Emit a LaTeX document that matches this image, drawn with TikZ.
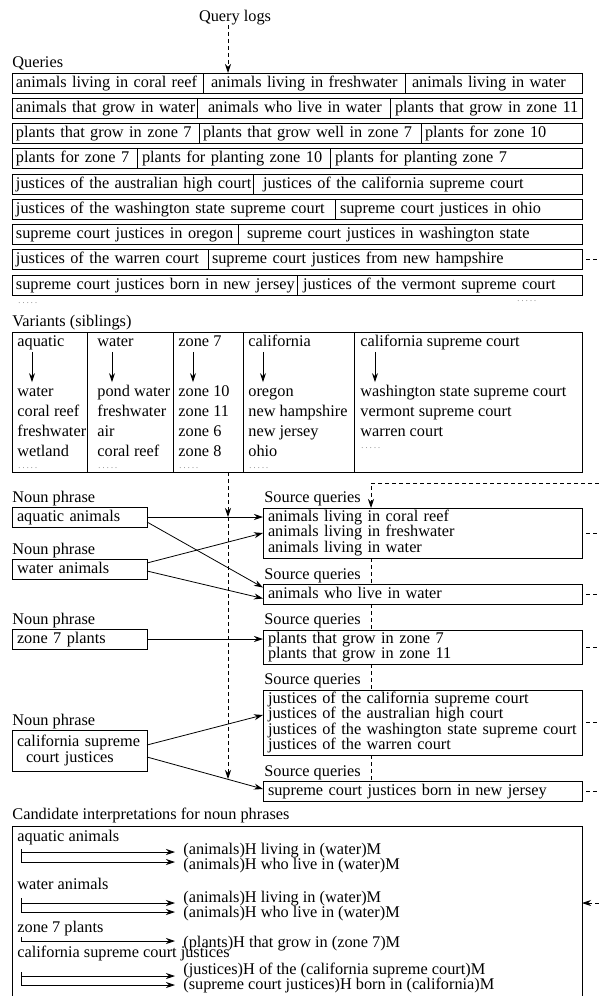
\documentclass[tikz,border=0pt]{standalone}
\usepackage{fontspec}
\setmainfont{Liberation Serif}
\usetikzlibrary{arrows.meta}
\newcommand\F{\fontsize{16.3}{15.5}\selectfont}
\newcommand\fdots{{\fontsize{8}{8}\selectfont\color{black!60}.\hspace{2.2pt}.\hspace{2.2pt}.\hspace{2.2pt}.\hspace{2.2pt}.}}
\newcommand\qcell[6]{%
  \pgfmathsetmacro\cw{#3-#2-8}%
  \node[cell, text width=\cw pt] (#1) at (#2,{83+25.25*(#4-1)}) {\hspace*{#5pt}\mbox{#6}};%
}
\begin{document}
\begin{tikzpicture}[x=1pt,y=-1pt,line width=0.8pt,
  txt/.style={inner sep=0pt, anchor=west, text height=11.5pt, text depth=3.5pt, font=\F},
  cell/.style={draw, anchor=west, inner xsep=4pt, inner ysep=0pt, minimum height=20pt,
    text height=11.5pt, text depth=3.5pt, align=left, font=\F, outer sep=0pt},
  box/.style={draw, anchor=north west, inner xsep=5pt, inner ysep=0pt, align=left,
    font=\F, outer sep=0pt, fill=white},
  col/.style={draw, anchor=north west, inner sep=0pt, outer sep=0pt, minimum height=140pt},
  dotsty/.style={inner sep=0pt, anchor=base west},
  arr/.style={-{Stealth[length=9pt,width=6pt]}},
  dsh/.style={dash pattern=on 4pt off 3pt},
]
\path[use as bounding box] (0,0) rectangle (599,996);
\clip (0,0) rectangle (599,996);
\coordinate (vx) at (228,0);
\coordinate (sx) at (371,0);
\coordinate (re) at (599,0);

% ---------------- Query logs / Queries
\node[txt, anchor=center] (ql) at (235,17) {Query logs};
\node[txt] (qlab) at (12,63) {Queries};

\qcell{q1a}{12}{203}{1}{0}{animals living in coral reef}
\qcell{q1b}{203}{405}{1}{4}{animals living in freshwater}
\qcell{q1c}{405}{582}{1}{3}{animals living in water}
\qcell{q2a}{12}{197}{2}{0}{animals that grow in water}
\qcell{q2b}{197}{390}{2}{7}{animals who live in water}
\qcell{q2c}{390}{582}{2}{1}{plants that grow in zone 11}
\qcell{q3a}{12}{199}{3}{0}{plants that grow in zone 7}
\qcell{q3b}{199}{421}{3}{0}{plants that grow well in zone 7}
\qcell{q3c}{421}{582}{3}{0}{plants for zone 10}
\qcell{q4a}{12}{137}{4}{0}{plants for zone 7}
\qcell{q4b}{137}{330}{4}{1}{plants for planting zone 10}
\qcell{q4c}{330}{582}{4}{1}{plants for planting zone 7}
\qcell{q5a}{12}{253}{5}{0}{justices of the australian high court}
\qcell{q5b}{253}{582}{5}{6}{justices of the california supreme court}
\qcell{q6a}{12}{335}{6}{0}{justices of the washington state supreme court}
\qcell{q6b}{335}{582}{6}{1}{supreme court justices in ohio}
\qcell{q7a}{12}{238}{7}{0}{supreme court justices in oregon}
\qcell{q7b}{238}{582}{7}{5}{supreme court justices in washington state}
\qcell{q8a}{12}{208}{8}{0}{justices of the warren court}
\qcell{q8b}{208}{582}{8}{0}{supreme court justices from new hampshire}
\qcell{q9a}{12}{297}{9}{0}{supreme court justices born in new jersey}
\qcell{q9b}{297}{582}{9}{2}{justices of the vermont supreme court}

\node[dotsty] (qd1) at (18,303) {\fdots};
\node[dotsty] (qd2) at (517,301) {\fdots};

\draw[dsh,arr] (ql.south -| vx) -- (q1b.north -| vx);
\draw[dsh,dash phase=3pt] (q8b.east) -- (q8b.east -| re);

% ---------------- Variants
\node[txt] (vlab) at (12,322) {Variants (siblings)};
\node[col, minimum width=75pt] (vc1) at (12,332) {};
\node[col, minimum width=86pt] (vc2) at (87,332) {};
\node[col, minimum width=70pt] (vc3) at (173,332) {};
\node[col, minimum width=111pt] (vc4) at (243,332) {};
\node[col, minimum width=228pt] (vc5) at (354,332) {};

\node[txt] (vh1) at (17,342) {aquatic};
\node[txt] (vh2) at (97,342) {water};
\node[txt] (vh3) at (178,342) {zone 7};
\node[txt] (vh4) at (248,342) {california};
\node[txt] (vh5) at (360,342) {california supreme court};

\foreach \t [count=\i] in {water, coral reef, freshwater, wetland}
  \node[txt] (v1-\i) at (17,{392+20.3*(\i-1)}) {\t};
\foreach \t [count=\i] in {pond water, freshwater, air, coral reef}
  \node[txt] (v2-\i) at (97,{392+20.3*(\i-1)}) {\t};
\foreach \t [count=\i] in {zone 10, zone 11, zone 6, zone 8}
  \node[txt] (v3-\i) at (178,{392+20.3*(\i-1)}) {\t};
\foreach \t [count=\i] in {oregon, new hampshire, new jersey, ohio}
  \node[txt] (v4-\i) at (248,{392+20.3*(\i-1)}) {\t};
\foreach \t [count=\i] in {washington state supreme court, vermont supreme court, warren court}
  \node[txt] (v5-\i) at (360,{392+20.3*(\i-1)}) {\t};

\node[dotsty] (vd1) at (18,468) {\fdots};
\node[dotsty] (vd2) at (98,468) {\fdots};
\node[dotsty] (vd3) at (179,468) {\fdots};
\node[dotsty] (vd4) at (249,468) {\fdots};
\node[dotsty] (vd5) at (361,448) {\fdots};

\foreach \c in {1,...,5}
  \draw[arr, shorten <=2pt, shorten >=2pt] ([xshift=15pt]vh\c.south west) -- ([xshift=15pt]v\c-1.north west);

% ---------------- Noun phrases
\node[txt] (nl1) at (12,498) {Noun phrase};
\node[txt] (nl2) at (12,550) {Noun phrase};
\node[txt] (nl3) at (12,620) {Noun phrase};
\node[txt] (nl4) at (12,721) {Noun phrase};
\node[box, minimum width=135pt, text width=125pt, minimum height=20pt, text height=11.5pt, text depth=3.5pt] (np1) at (12,507) {aquatic animals};
\node[box, minimum width=135pt, text width=125pt, minimum height=20pt, text height=11.5pt, text depth=3.5pt] (np2) at (12,559) {water animals};
\node[box, minimum width=135pt, text width=125pt, minimum height=20pt, text height=11.5pt, text depth=3.5pt] (np3) at (12,629) {zone 7 plants};
\node[box, minimum width=135pt, text width=125pt, minimum height=41pt] (np4) at (12,730) {\mbox{california supreme}\\\hspace*{9pt}\mbox{court justices}};

% ---------------- Source queries
\node[txt] (sl1) at (264,498) {Source queries};
\node[txt] (sl2) at (264,575) {Source queries};
\node[txt] (sl3) at (264,620) {Source queries};
\node[txt] (sl4) at (264,680) {Source queries};
\node[txt] (sl5) at (264,772) {Source queries};
\node[box, minimum width=319pt, text width=309pt, minimum height=50pt] (src1) at (263,508)
  {\mbox{animals living in coral reef}\\\mbox{animals living in freshwater}\\\mbox{animals living in water}};
\node[box, minimum width=319pt, text width=309pt, minimum height=20pt, text height=11.5pt, text depth=3.5pt] (src2) at (263,584)
  {\mbox{animals who live in water}};
\node[box, minimum width=319pt, text width=309pt, minimum height=34pt] (src3) at (263,630)
  {\mbox{plants that grow in zone 7}\\\mbox{plants that grow in zone 11}};
\node[box, minimum width=319pt, text width=309pt, minimum height=65pt] (src4) at (263,690)
  {\mbox{justices of the california supreme court}\\\mbox{justices of the australian high court}\\\mbox{justices of the washington state supreme court}\\\mbox{justices of the warren court}};
\node[box, minimum width=319pt, text width=309pt, minimum height=20pt, text height=11.5pt, text depth=3.5pt] (src5) at (263,781)
  {\mbox{supreme court justices born in new jersey}};

% noun phrase -> source queries
\draw[arr] (np1.east) -- (np1.east -| src1.west);
\draw[arr] ([yshift=-5pt]np1.east) -- ([yshift=6.5pt]src2.west);
\draw[arr] ([yshift=6pt]np2.east) -- (src1.west);
\draw[arr] ([yshift=-2pt]np2.east) -- ([yshift=-4.5pt]src2.west);
\draw[arr] (np3.east) -- (np3.east -| src3.west);
\draw[arr] ([yshift=5.5pt]np4.east) -- ([yshift=7.5pt]src4.west);
\draw[arr] ([yshift=-6.5pt]np4.east) -- ([yshift=2pt]src5.west);

% variants dashed line
\coordinate (d2) at (228,779);
\draw[dsh,arr] (vc3.south -| vx) -- (np1.east -| vx);
\draw[dsh,arr] (np1.east -| vx) -- (d2);

% dashed feed into source queries
\coordinate (tr) at (599,483);
\draw[dsh,arr] (tr) -| (src1.north -| sx);
\draw[dsh] (src1.south -| sx) -- (src2.north -| sx);
\draw[dsh] (src2.south -| sx) -- (src3.north -| sx);
\draw[dsh] (src3.south -| sx) -- (src4.north -| sx);
\draw[dsh] (src4.south -| sx) -- (src5.north -| sx);
\foreach \s in {src1,src2,src3,src4,src5}
  \draw[dsh,dash phase=3pt] (\s.east) -- (\s.east -| re);

% ---------------- Candidate interpretations
\node[txt] (clab) at (12,815) {Candidate interpretations for noun phrases};
\node[draw, anchor=north west, minimum width=570pt, minimum height=200pt, inner sep=0pt, outer sep=0pt] (cand) at (12,826) {};
\node[txt] (c1) at (17,837) {aquatic animals};
\node[txt] (c1a) at (183,850) {(animals)H living in (water)M};
\node[txt] (c1b) at (183,865) {(animals)H who live in (water)M};
\draw[arr] (21,849) -- (21,862) -- (175,862);
\draw[arr] (21,852) -- (175,852);
\node[txt] (c2) at (17,885) {water animals};
\node[txt] (c2a) at (183,898) {(animals)H living in (water)M};
\node[txt] (c2b) at (183,913) {(animals)H who live in (water)M};
\draw[arr] (21,898) -- (21,912) -- (175,912);
\draw[arr] (21,903) -- (175,903);
\node[txt] (c3) at (17,928) {zone 7 plants};
\node[txt] (c3a) at (183,943) {(plants)H that grow in (zone 7)M};
\draw[arr] (21,937) -- (21,941) -- (175,941);
\node[txt] (c4) at (17,953) {california supreme court justices};
\node[txt] (c4a) at (183,970) {(justices)H of the (california supreme court)M};
\node[txt] (c4b) at (183,985) {(supreme court justices)H born in (california)M};
\draw[arr] (21,972) -- (21,985) -- (175,985);
\draw[arr] (21,976) -- (175,976);

\coordinate (ce) at (599,903);
\draw[dsh,arr] (ce) -- (ce -| cand.east);
\end{tikzpicture}
\end{document}
